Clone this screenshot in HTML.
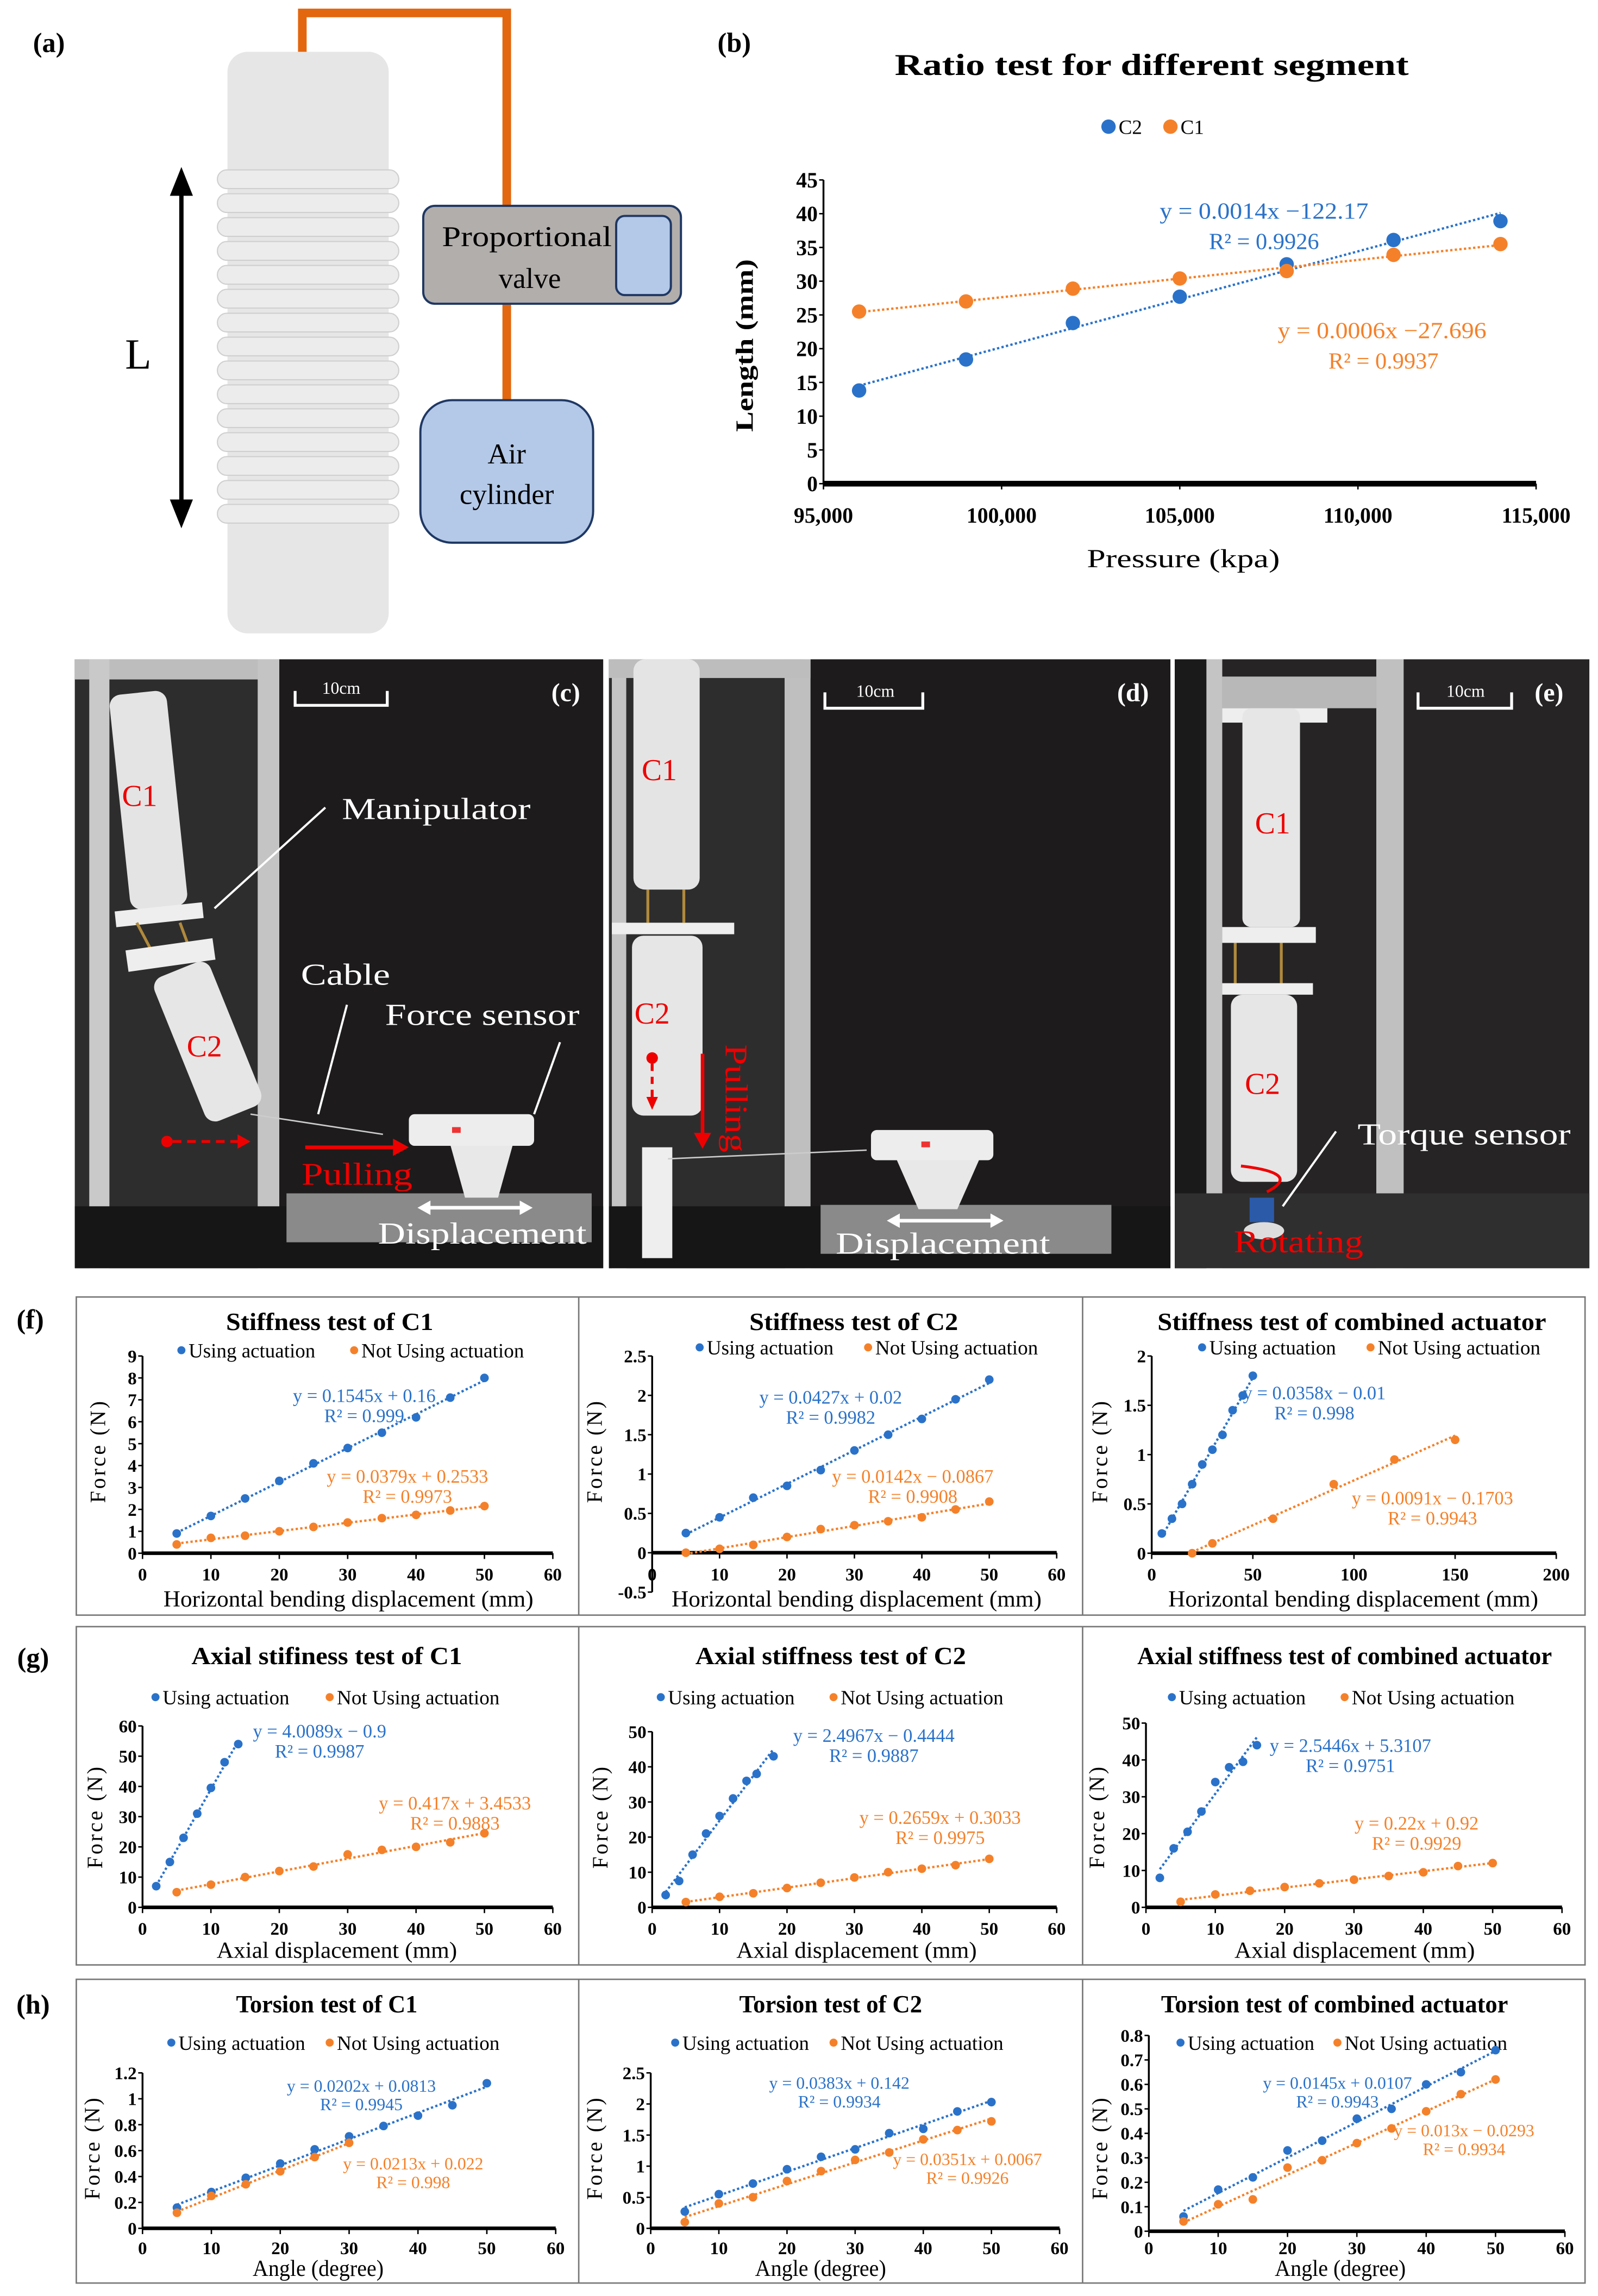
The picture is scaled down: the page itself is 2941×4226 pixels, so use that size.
<!DOCTYPE html>
<html><head><meta charset="utf-8"><style>
html,body{margin:0;padding:0;background:#fff}
svg{display:block}
text{font-family:"Liberation Serif",serif}
</style></head><body>
<svg id="fig" xmlns="http://www.w3.org/2000/svg" width="2941" height="4226" viewBox="0 0 1110 1595" preserveAspectRatio="none">
<rect x="0" y="0" width="1110" height="1595" fill="#fff"/>
<g>
<text x="34" y="36" font-size="19" font-weight="bold" text-anchor="middle">(a)</text>
<rect x="158" y="36" width="112" height="404" rx="14" fill="#e6e6e6"/>
<g id="ribs"></g>
<path d="M210 36 V9 H352 V143 M352 211 V278" fill="none" stroke="#e2670f" stroke-width="6"/>
<rect x="294" y="143" width="179" height="68" rx="8" fill="#b2aeac" stroke="#1f3864" stroke-width="1.5"/>
<rect x="428" y="150" width="38" height="55" rx="6" fill="#b4c9e8" stroke="#1f3864" stroke-width="1.5"/>
<text x="366" y="171" font-size="20" text-anchor="middle" textLength="118" lengthAdjust="spacingAndGlyphs">Proportional</text>
<text x="368" y="200" font-size="20" text-anchor="middle">valve</text>
<rect x="292" y="278" width="120" height="99" rx="22" fill="#b4c9e8" stroke="#1f3864" stroke-width="1.5"/>
<text x="352" y="322" font-size="20" text-anchor="middle">Air</text>
<text x="352" y="350" font-size="20" text-anchor="middle">cylinder</text>
<line x1="126" y1="128" x2="126" y2="355" stroke="#000" stroke-width="3"/>
<polygon points="126,116 118,136 134,136" fill="#000"/>
<polygon points="126,367 118,347 134,347" fill="#000"/>
<text x="96" y="256" font-size="30" text-anchor="middle">L</text>
</g>
<g id="chartB">
<text x="510" y="36" font-size="19" font-weight="bold" text-anchor="middle">(b)</text>
<text x="800" y="52" font-size="21" font-weight="bold" text-anchor="middle" textLength="357" lengthAdjust="spacingAndGlyphs">Ratio test for different segment</text>
<circle cx="770" cy="88" r="5" fill="#2a72c9"/><text x="777" y="93" font-size="14">C2</text>
<circle cx="813" cy="88" r="5" fill="#f4812a"/><text x="820" y="93" font-size="14">C1</text>
<text transform="translate(523,240) rotate(-90)" font-size="17" font-weight="bold" text-anchor="middle" textLength="120" lengthAdjust="spacingAndGlyphs">Length (mm)</text>
<text x="822" y="394" font-size="18" text-anchor="middle" textLength="134" lengthAdjust="spacingAndGlyphs">Pressure (kpa)</text>
<text x="878" y="152" font-size="16" fill="#2a72c9" text-anchor="middle" textLength="145" lengthAdjust="spacingAndGlyphs">y = 0.0014x −122.17</text>
<text x="878" y="173" font-size="16" fill="#2a72c9" text-anchor="middle">R² = 0.9926</text>
<text x="960" y="235" font-size="16" fill="#f4812a" text-anchor="middle" textLength="145" lengthAdjust="spacingAndGlyphs">y = 0.0006x −27.696</text>
<text x="961" y="256" font-size="16" fill="#f4812a" text-anchor="middle">R² = 0.9937</text>
</g>
<g>
<rect x="52" y="458" width="367" height="423" fill="#1d1b1b"/>
<rect x="52" y="458" width="142" height="423" fill="#2e2d2e"/>
<rect x="52" y="458" width="142" height="14" fill="#bdbdbd"/>
<rect x="62" y="458" width="14" height="423" fill="#c9c9c9"/>
<rect x="179" y="458" width="15" height="423" fill="#c4c4c4"/>
<rect x="52" y="838" width="367" height="43" fill="#161616"/>
<rect x="199" y="829" width="212" height="34" fill="#8a8a8a"/>
<g transform="rotate(-6 102 555)"><rect x="83" y="481" width="40" height="150" rx="8" fill="#e4e4e4"/></g>
<rect x="80" y="630" width="61" height="11" fill="#eee" transform="rotate(-6 110 635)"/>
<line x1="95" y1="641" x2="105" y2="660" stroke="#b08a3c" stroke-width="2"/><line x1="125" y1="641" x2="132" y2="660" stroke="#b08a3c" stroke-width="2"/>
<rect x="88" y="656" width="61" height="15" fill="#eee" transform="rotate(-8 118 664)"/>
<g transform="rotate(-22 143 723)"><rect x="123" y="670" width="42" height="108" rx="8" fill="#e6e6e6"/></g>
<line x1="174" y1="774" x2="266" y2="788" stroke="#ccc" stroke-width="1"/>
<rect x="284" y="774" width="87" height="22" rx="4" fill="#ededed"/>
<rect x="314" y="783" width="6" height="4" fill="#e33"/>
<polygon points="313,796 356,796 346,832 323,832" fill="#e8e8e8"/>
<path d="M226 561 L149 631 M241 698 L221 774 M389 724 L371 774" stroke="#fff" stroke-width="1.5" fill="none"/>
<circle cx="116" cy="793" r="4" fill="#e00"/>
<line x1="120" y1="793" x2="167" y2="793" stroke="#e00" stroke-width="2" stroke-dasharray="6 4"/>
<polygon points="174,793 165,788 165,798" fill="#e00"/>
<line x1="212" y1="797" x2="275" y2="797" stroke="#e00" stroke-width="2.5"/><polygon points="284,797 273,791 273,803" fill="#e00"/>
<line x1="296" y1="839" x2="364" y2="839" stroke="#fff" stroke-width="2.5"/><polygon points="290,839 299,834 299,844" fill="#fff"/><polygon points="370,839 361,834 361,844" fill="#fff"/>
<text x="97" y="560" font-size="21" fill="#e00" text-anchor="middle">C1</text>
<text x="142" y="734" font-size="21" fill="#e00" text-anchor="middle">C2</text>
<text x="303" y="569" font-size="21" fill="#fff" text-anchor="middle" textLength="131" lengthAdjust="spacingAndGlyphs">Manipulator</text>
<text x="240" y="684" font-size="21" fill="#fff" text-anchor="middle" textLength="62" lengthAdjust="spacingAndGlyphs">Cable</text>
<text x="335" y="712" font-size="21" fill="#fff" text-anchor="middle" textLength="135" lengthAdjust="spacingAndGlyphs">Force sensor</text>
<text x="248" y="823" font-size="22" fill="#e00" text-anchor="middle" textLength="77" lengthAdjust="spacingAndGlyphs">Pulling</text>
<text x="335" y="864" font-size="21" fill="#fff" text-anchor="middle" textLength="145" lengthAdjust="spacingAndGlyphs">Displacement</text>
<path d="M205 480 V490 H269 V480" stroke="#fff" stroke-width="2" fill="none"/>
<text x="237" y="482" font-size="12" fill="#fff" text-anchor="middle">10cm</text>
<text x="393" y="487" font-size="18" font-weight="bold" fill="#fff" text-anchor="middle">(c)</text>
</g>
<g>
<rect x="423" y="458" width="390" height="423" fill="#1d1b1b"/>
<rect x="423" y="458" width="136" height="423" fill="#2e2d2e"/>
<rect x="425" y="458" width="10" height="423" fill="#c4c4c4"/>
<rect x="545" y="458" width="18" height="423" fill="#bfbfbf"/>
<rect x="423" y="458" width="140" height="13" fill="#bdbdbd"/>
<rect x="423" y="838" width="390" height="43" fill="#161616"/>
<rect x="570" y="837" width="202" height="34" fill="#8a8a8a"/>
<rect x="440" y="458" width="46" height="160" rx="8" fill="#e4e4e4"/>
<rect x="425" y="641" width="85" height="8" fill="#eee"/>
<line x1="450" y1="618" x2="450" y2="641" stroke="#b08a3c" stroke-width="2"/><line x1="475" y1="618" x2="475" y2="641" stroke="#b08a3c" stroke-width="2"/>
<rect x="439" y="650" width="49" height="125" rx="8" fill="#e6e6e6"/>
<rect x="446" y="797" width="21" height="77" fill="#eee"/>
<line x1="464" y1="805" x2="602" y2="799" stroke="#ccc" stroke-width="1"/>
<rect x="605" y="785" width="85" height="21" rx="4" fill="#ededed"/>
<rect x="640" y="793" width="6" height="4" fill="#e33"/>
<polygon points="623,806 680,806 665,840 638,840" fill="#e8e8e8"/>
<circle cx="453" cy="735" r="4" fill="#e00"/>
<line x1="453" y1="739" x2="453" y2="764" stroke="#e00" stroke-width="2" stroke-dasharray="5 4"/><polygon points="453,771 449,762 457,762" fill="#e00"/>
<line x1="488" y1="732" x2="488" y2="788" stroke="#e00" stroke-width="2.5"/><polygon points="488,798 482,787 494,787" fill="#e00"/>
<text transform="translate(504,763) rotate(90)" font-size="22" fill="#e00" text-anchor="middle" textLength="75" lengthAdjust="spacingAndGlyphs">Pulling</text>
<line x1="622" y1="848" x2="691" y2="848" stroke="#fff" stroke-width="2.5"/><polygon points="616,848 625,843 625,853" fill="#fff"/><polygon points="697,848 688,843 688,853" fill="#fff"/>
<text x="655" y="871" font-size="21" fill="#fff" text-anchor="middle" textLength="149" lengthAdjust="spacingAndGlyphs">Displacement</text>
<text x="458" y="542" font-size="21" fill="#e00" text-anchor="middle">C1</text>
<text x="453" y="711" font-size="21" fill="#e00" text-anchor="middle">C2</text>
<path d="M573 481 V492 H641 V481" stroke="#fff" stroke-width="2" fill="none"/>
<text x="608" y="484" font-size="12" fill="#fff" text-anchor="middle">10cm</text>
<text x="787" y="487" font-size="18" font-weight="bold" fill="#fff" text-anchor="middle">(d)</text>
</g>
<g>
<rect x="816" y="458" width="288" height="423" fill="#262424"/>
<rect x="816" y="458" width="22" height="423" fill="#1a1a1a"/>
<rect x="838" y="458" width="11" height="423" fill="#c4c4c4"/>
<rect x="956" y="458" width="19" height="423" fill="#c0c0c0"/>
<rect x="849" y="470" width="107" height="22" fill="#b8b8b8"/>
<rect x="816" y="829" width="288" height="52" fill="#2f2f2f"/>
<rect x="849" y="492" width="73" height="10" fill="#eee"/>
<rect x="863" y="492" width="40" height="152" rx="6" fill="#e6e6e6"/>
<rect x="849" y="644" width="65" height="11" fill="#eee"/>
<line x1="858" y1="655" x2="858" y2="683" stroke="#b08a3c" stroke-width="2"/><line x1="890" y1="655" x2="890" y2="683" stroke="#b08a3c" stroke-width="2"/>
<rect x="849" y="683" width="63" height="8" fill="#eee"/>
<rect x="855" y="691" width="46" height="130" rx="8" fill="#e6e6e6"/>
<rect x="868" y="832" width="17" height="17" fill="#2a5aa8"/>
<ellipse cx="878" cy="855" rx="14" ry="6" fill="#ddd"/>
<path d="M928 786 L891 838" stroke="#fff" stroke-width="1.5"/>
<path d="M862 810 Q905 815 880 828" stroke="#e00" stroke-width="2" fill="none"/>
<text x="884" y="579" font-size="21" fill="#e00" text-anchor="middle">C1</text>
<text x="877" y="760" font-size="21" fill="#e00" text-anchor="middle">C2</text>
<text x="1017" y="795" font-size="21" fill="#fff" text-anchor="middle" textLength="148" lengthAdjust="spacingAndGlyphs">Torque sensor</text>
<text x="902" y="870" font-size="22" fill="#e00" text-anchor="middle" textLength="90" lengthAdjust="spacingAndGlyphs">Rotating</text>
<path d="M985 481 V492 H1050 V481" stroke="#fff" stroke-width="2" fill="none"/>
<text x="1018" y="484" font-size="12" fill="#fff" text-anchor="middle">10cm</text>
<text x="1076" y="487" font-size="18" font-weight="bold" fill="#fff" text-anchor="middle">(e)</text>
</g>
<g fill="none" stroke="#777" stroke-width="1">
<rect x="53" y="901" width="1048" height="221"/><line x1="402" y1="901" x2="402" y2="1122"/><line x1="752" y1="901" x2="752" y2="1122"/>
<rect x="53" y="1130" width="1048" height="235"/><line x1="402" y1="1130" x2="402" y2="1365"/><line x1="752" y1="1130" x2="752" y2="1365"/>
<rect x="53" y="1375" width="1048" height="211"/><line x1="402" y1="1375" x2="402" y2="1586"/><line x1="752" y1="1375" x2="752" y2="1586"/>
</g>
<text x="21" y="923" font-size="19" font-weight="bold" text-anchor="middle">(f)</text>
<text x="23" y="1158" font-size="19" font-weight="bold" text-anchor="middle">(g)</text>
<text x="23" y="1399" font-size="19" font-weight="bold" text-anchor="middle">(h)</text>
<g id="charts"></g>
</svg>
<script>
const B_X = [96000,99000,102000,105000,108000,111000,114000];
const B_C2 = [13.8,18.4,23.8,27.7,32.5,36.1,38.9];
const B_C1 = [25.5,27.0,28.9,30.4,31.5,33.9,35.5];
const B_XTICKS = [95000,100000,105000,110000,115000];
const B_XLABELS = ["95,000","100,000","105,000","110,000","115,000"];
const B_YTICKS = [0,5,10,15,20,25,30,35,40,45];

const STEP_X = [5,10,15,20,25,30,35,40,45,50];
const F1_USE = [0.9,1.7,2.5,3.3,4.1,4.8,5.5,6.2,7.1,8.0];
const F1_NOT = [0.4,0.7,0.8,1.0,1.2,1.4,1.6,1.75,1.95,2.15];
const F2_USE = [0.25,0.45,0.7,0.85,1.05,1.3,1.5,1.7,1.95,2.2];
const F2_NOT = [0,0.05,0.1,0.2,0.3,0.35,0.4,0.45,0.55,0.65];
const F3_USE = [0.2,0.35,0.5,0.7,0.9,1.05,1.2,1.45,1.6,1.8];
const F3_NOT_X = [20,30,60,90,120,150];
const F3_NOT = [0,0.1,0.35,0.7,0.95,1.15];
const G1_USE_X = [2,4,6,8,10,12,14];
const G1_USE = [7,15,23,31,39.5,48,54];
const G1_NOT = [5,7.5,10,12,13.5,17.5,19,20,21.5,24.5];
const G2_USE_X = [2,4,6,8,10,12,14,15.5,18];
const G2_USE = [3.5,7.5,15,21,26,31,36,38,43];
const G2_NOT = [1.5,3,4,5.5,7,8.5,10,11,12,13.8];
const G3_USE_X = [2,4,6,8,10,12,14,16];
const G3_USE = [8,16,20.5,26,34,38,39.5,44];
const G3_NOT = [1.5,3.5,4.5,5.5,6.5,7.5,8.5,9.5,11.2,12];
const H1_USE = [0.16,0.28,0.39,0.5,0.61,0.71,0.79,0.87,0.95,1.12];
const H1_NOT_X = [5,10,15,20,25,30];
const H1_NOT = [0.12,0.25,0.34,0.44,0.55,0.66];
const H2_USE = [0.27,0.55,0.72,0.95,1.15,1.27,1.53,1.6,1.88,2.03];
const H2_NOT = [0.1,0.4,0.5,0.76,0.92,1.1,1.22,1.43,1.58,1.72];
const H3_USE = [0.06,0.17,0.22,0.33,0.37,0.46,0.5,0.6,0.65,0.74];
const H3_NOT = [0.04,0.11,0.13,0.26,0.29,0.36,0.42,0.49,0.56,0.62];

const BLUE = "#2a72c9", ORANGE = "#f4812a";
const NS = "http://www.w3.org/2000/svg";
function mk(tag, attrs, parent){const e=document.createElementNS(NS,tag);for(const k in attrs)e.setAttribute(k,attrs[k]);parent.appendChild(e);return e;}
function fit(xs,ys){const n=xs.length;let sx=0,sy=0,sxx=0,sxy=0;for(let i=0;i<n;i++){sx+=xs[i];sy+=ys[i];sxx+=xs[i]*xs[i];sxy+=xs[i]*ys[i];}const m=(n*sxy-sx*sy)/(n*sxx-sx*sx);return {m:m,b:(sy-m*sx)/n};}

const ribs=document.getElementById('ribs');
for(let i=0;i<15;i++){const r=mk('rect',{x:151,y:118+i*16.6,width:126,height:13,rx:6.5,fill:'#ececec',stroke:'#cfcfcf','stroke-width':0.8},ribs);

}

function chart(c){
  const g=mk('g',{},document.getElementById('charts'));
  
  
  const sx=v=>c.px0+(v-c.xmin)/(c.xmax-c.xmin)*(c.px1-c.px0);
  const sy=v=>c.py0+(v-c.ymin)/(c.ymax-c.ymin)*(c.py1-c.py0);
  const fs=c.fs||11;
  if(c.title){const t=mk('text',{x:c.tx,y:c.ty,'font-size':c.tfs||17,'font-weight':'bold','text-anchor':'middle',textLength:c.tlen,lengthAdjust:'spacingAndGlyphs'},g);t.textContent=c.title;
  
  }
  if(c.legY){
    const l1=mk('circle',{cx:c.leg1,cy:c.legY-5,r:2.8,fill:BLUE},g);
    
    
    const t1=mk('text',{x:c.leg1+5,y:c.legY,'font-size':14,textLength:88,lengthAdjust:'spacingAndGlyphs'},g);t1.textContent='Using actuation';
    
    
    const l2=mk('circle',{cx:c.leg2,cy:c.legY-5,r:2.8,fill:ORANGE},g);
    
    
    const t2=mk('text',{x:c.leg2+5,y:c.legY,'font-size':14,textLength:113,lengthAdjust:'spacingAndGlyphs'},g);t2.textContent='Not Using actuation';
    
    
  }
  const y0=sy(Math.max(c.ymin,0));
  const ya=mk('line',{x1:sx(c.xmin),y1:c.py0,x2:sx(c.xmin),y2:c.py1,stroke:'#000','stroke-width':1.3},g);
  
  
  const xa=mk('line',{x1:c.px0,y1:y0,x2:c.px1,y2:y0,stroke:'#000','stroke-width':c.xw||2.5},g);
  
  
  c.yticks.forEach(v=>{
    mk('line',{x1:sx(c.xmin)-3,y1:sy(v),x2:sx(c.xmin),y2:sy(v),stroke:'#000','stroke-width':1},g);
    const t=mk('text',{x:sx(c.xmin)-4,y:sy(v)+fs*0.35,'font-size':fs,'font-weight':'bold','text-anchor':'end'},g);
    t.textContent=String(v);
    
    
  });
  c.xticks.forEach((v,i)=>{
    mk('line',{x1:sx(v),y1:y0,x2:sx(v),y2:y0+4,stroke:'#000','stroke-width':1},g);
    const t=mk('text',{x:sx(v),y:c.xly,'font-size':fs,'font-weight':'bold','text-anchor':'middle'},g);
    t.textContent=c.xlabels?c.xlabels[i]:String(v);
    
    
  });
  if(c.xtitle){const xt=mk('text',{x:c.xtx,y:c.xty,'font-size':c.afs||16,'text-anchor':'middle',textLength:c.xlen,lengthAdjust:'spacingAndGlyphs'},g);xt.textContent=c.xtitle;
  
  }
  if(c.ytitle){const yt=mk('text',{transform:`translate(${c.ytx},${c.yty}) rotate(-90)`,'font-size':15,'text-anchor':'middle','letter-spacing':'1.5'},g);yt.textContent=c.ytitle;
  
  }
  c.series.forEach(s=>{
    const f=fit(s.x,s.y);
    const xa0=s.x[0], xa1=s.x[s.x.length-1];
    const tl=mk('line',{x1:sx(xa0),y1:sy(f.m*xa0+f.b),x2:sx(xa1),y2:sy(f.m*xa1+f.b),stroke:s.color,'stroke-width':1.6,'stroke-dasharray':'1.6 1.6'},g);
    
    
    s.x.forEach((xv,i)=>{
      const p=mk('circle',{cx:sx(xv),cy:sy(s.y[i]),r:c.r||3,fill:s.color},g);
      
      
    });
    if(s.eq){
    const e1=mk('text',{x:s.ex,y:s.ey,'font-size':c.efs||13,fill:s.color,'text-anchor':'middle'},g);e1.textContent=s.eq;
    
    
    const e2=mk('text',{x:s.ex,y:s.ey+(c.egap||14),'font-size':c.efs||13,fill:s.color,'text-anchor':'middle'},g);e2.textContent=s.r2;
    
    }
  });
}
chart({name:'chart-b',px0:572,px1:1067,xmin:95000,xmax:115000,py0:336,py1:125,ymin:0,ymax:45,
 xticks:B_XTICKS,xlabels:B_XLABELS,yticks:B_YTICKS,xly:363,fs:15,r:5,xw:4,xtitle:'',
 series:[{x:B_X,y:B_C2,color:BLUE,eq:''},{x:B_X,y:B_C1,color:ORANGE,eq:''}]});

const common={fs:12.5,r:3};
const fRow={tyo:924,legY:943,xly:1098,xty:1116,yty:1008};
const gRow={tyo:1156,legY:1184,xly:1344,xty:1360,yty:1262};
const hRow={tyo:1398,legY:1424,xly:1566,xty:1581,yty:1492};
const FX='Horizontal bending displacement (mm)', GX='Axial displacement (mm)', HX='Angle (degree)';

chart(Object.assign({},common,{name:'chart-f1',title:'Stiffness test of C1',tlen:144,tx:229,ty:fRow.tyo,leg1:126,leg2:246,legY:fRow.legY,
 px0:99,px1:384,xmin:0,xmax:60,py0:1079,py1:942,ymin:0,ymax:9,xticks:[0,10,20,30,40,50,60],yticks:[0,1,2,3,4,5,6,7,8,9],xly:fRow.xly,
 xtitle:FX,xlen:257,xtx:242,xty:fRow.xty,ytitle:'Force (N)',ytx:73,yty:fRow.yty,
 series:[{x:STEP_X,y:F1_USE,color:BLUE,eq:'y = 0.1545x + 0.16',r2:'R² = 0.999',ex:253,ey:974},
 {x:STEP_X,y:F1_NOT,color:ORANGE,eq:'y = 0.0379x + 0.2533',r2:'R² = 0.9973',ex:283,ey:1030}]}));
chart(Object.assign({},common,{name:'chart-f2',title:'Stiffness test of C2',tlen:145,tx:593,ty:fRow.tyo,leg1:486,leg2:603,legY:fRow.legY-2,
 px0:453,px1:734,xmin:0,xmax:60,py0:1106,py1:942,ymin:-0.5,ymax:2.5,xticks:[0,10,20,30,40,50,60],yticks:[-0.5,0,0.5,1,1.5,2,2.5],xly:fRow.xly,
 xtitle:FX,xlen:257,xtx:595,xty:fRow.xty,ytitle:'Force (N)',ytx:418,yty:fRow.yty,
 series:[{x:STEP_X,y:F2_USE,color:BLUE,eq:'y = 0.0427x + 0.02',r2:'R² = 0.9982',ex:577,ey:975},
 {x:STEP_X,y:F2_NOT,color:ORANGE,eq:'y = 0.0142x − 0.0867',r2:'R² = 0.9908',ex:634,ey:1030}]}));
chart(Object.assign({},common,{name:'chart-f3',title:'Stiffness test of combined actuator',tlen:270,tx:939,ty:fRow.tyo,leg1:835,leg2:952,legY:fRow.legY-2,
 px0:800,px1:1081,xmin:0,xmax:200,py0:1079,py1:942,ymin:0,ymax:2,xticks:[0,50,100,150,200],yticks:[0,0.5,1,1.5,2],xly:fRow.xly,
 xtitle:FX,xlen:257,xtx:940,xty:fRow.xty,ytitle:'Force (N)',ytx:769,yty:fRow.yty,
 series:[{x:STEP_X,y:F3_USE,color:BLUE,eq:'y = 0.0358x − 0.01',r2:'R² = 0.998',ex:913,ey:972},
 {x:F3_NOT_X,y:F3_NOT,color:ORANGE,eq:'y = 0.0091x − 0.1703',r2:'R² = 0.9943',ex:995,ey:1045}]}));

chart(Object.assign({},common,{name:'chart-g1',title:'Axial stifiness test of C1',tlen:188,tx:227,ty:gRow.tyo,leg1:108,leg2:229,legY:gRow.legY,
 px0:99,px1:384,xmin:0,xmax:60,py0:1325,py1:1199,ymin:0,ymax:60,xticks:[0,10,20,30,40,50,60],yticks:[0,10,20,30,40,50,60],xly:gRow.xly,
 xtitle:GX,xlen:167,xtx:234,xty:gRow.xty,ytitle:'Force (N)',ytx:71,yty:gRow.yty,
 series:[{x:G1_USE_X,y:G1_USE,color:BLUE,eq:'y = 4.0089x − 0.9',r2:'R² = 0.9987',ex:222,ey:1207},
 {x:STEP_X,y:G1_NOT,color:ORANGE,eq:'y = 0.417x + 3.4533',r2:'R² = 0.9883',ex:316,ey:1257}]}));
chart(Object.assign({},common,{name:'chart-g2',title:'Axial stiffness test of C2',tlen:188,tx:577,ty:gRow.tyo,leg1:459,leg2:579,legY:gRow.legY,
 px0:453,px1:734,xmin:0,xmax:60,py0:1325,py1:1203,ymin:0,ymax:50,xticks:[0,10,20,30,40,50,60],yticks:[0,10,20,30,40,50],xly:gRow.xly,
 xtitle:GX,xlen:167,xtx:595,xty:gRow.xty,ytitle:'Force (N)',ytx:422,yty:gRow.yty,
 series:[{x:G2_USE_X,y:G2_USE,color:BLUE,eq:'y = 2.4967x − 0.4444',r2:'R² = 0.9887',ex:607,ey:1210},
 {x:STEP_X,y:G2_NOT,color:ORANGE,eq:'y = 0.2659x + 0.3033',r2:'R² = 0.9975',ex:653,ey:1267}]}));
chart(Object.assign({},common,{name:'chart-g3',title:'Axial stiffness test of combined actuator',tlen:288,tx:934,ty:gRow.tyo,leg1:814,leg2:934,legY:gRow.legY,
 px0:796,px1:1085,xmin:0,xmax:60,py0:1325,py1:1197,ymin:0,ymax:50,xticks:[0,10,20,30,40,50,60],yticks:[0,10,20,30,40,50],xly:gRow.xly,
 xtitle:GX,xlen:167,xtx:941,xty:gRow.xty,ytitle:'Force (N)',ytx:767,yty:gRow.yty,
 series:[{x:G3_USE_X,y:G3_USE,color:BLUE,eq:'y = 2.5446x + 5.3107',r2:'R² = 0.9751',ex:938,ey:1217},
 {x:STEP_X,y:G3_NOT,color:ORANGE,eq:'y = 0.22x + 0.92',r2:'R² = 0.9929',ex:984,ey:1271}]}));

chart(Object.assign({},common,{name:'chart-h1',title:'Torsion test of C1',tlen:126,tx:227,ty:hRow.tyo,leg1:119,leg2:229,legY:hRow.legY,
 px0:99,px1:386,xmin:0,xmax:60,py0:1548,py1:1440,ymin:0,ymax:1.2,xticks:[0,10,20,30,40,50,60],yticks:[0,0.2,0.4,0.6,0.8,1,1.2],xly:hRow.xly,
 xtitle:HX,xlen:91,xtx:221,xty:hRow.xty,ytitle:'Force (N)',ytx:69,yty:hRow.yty,efs:12,egap:13,
 series:[{x:STEP_X,y:H1_USE,color:BLUE,eq:'y = 0.0202x + 0.0813',r2:'R² = 0.9945',ex:251,ey:1453},
 {x:H1_NOT_X,y:H1_NOT,color:ORANGE,eq:'y = 0.0213x + 0.022',r2:'R² = 0.998',ex:287,ey:1507}]}));
chart(Object.assign({},common,{name:'chart-h2',title:'Torsion test of C2',tlen:127,tx:577,ty:hRow.tyo,leg1:469,leg2:579,legY:hRow.legY,
 px0:452,px1:736,xmin:0,xmax:60,py0:1548,py1:1440,ymin:0,ymax:2.5,xticks:[0,10,20,30,40,50,60],yticks:[0,0.5,1,1.5,2,2.5],xly:hRow.xly,
 xtitle:HX,xlen:91,xtx:570,xty:hRow.xty,ytitle:'Force (N)',ytx:418,yty:hRow.yty,efs:12,egap:13,
 series:[{x:STEP_X,y:H2_USE,color:BLUE,eq:'y = 0.0383x + 0.142',r2:'R² = 0.9934',ex:583,ey:1451},
 {x:STEP_X,y:H2_NOT,color:ORANGE,eq:'y = 0.0351x + 0.0067',r2:'R² = 0.9926',ex:672,ey:1504}]}));
chart(Object.assign({},common,{name:'chart-h3',title:'Torsion test of combined actuator',tlen:241,tx:927,ty:hRow.tyo,leg1:820,leg2:929,legY:hRow.legY,
 px0:798,px1:1087,xmin:0,xmax:60,py0:1550,py1:1414,ymin:0,ymax:0.8,xticks:[0,10,20,30,40,50,60],yticks:[0,0.1,0.2,0.3,0.4,0.5,0.6,0.7,0.8],xly:hRow.xly,
 xtitle:HX,xlen:91,xtx:931,xty:hRow.xty,ytitle:'Force (N)',ytx:769,yty:hRow.yty,efs:12,egap:13,
 series:[{x:STEP_X,y:H3_USE,color:BLUE,eq:'y = 0.0145x + 0.0107',r2:'R² = 0.9943',ex:929,ey:1451},
 {x:STEP_X,y:H3_NOT,color:ORANGE,eq:'y = 0.013x − 0.0293',r2:'R² = 0.9934',ex:1017,ey:1484}]}));
</script>
</body></html>
